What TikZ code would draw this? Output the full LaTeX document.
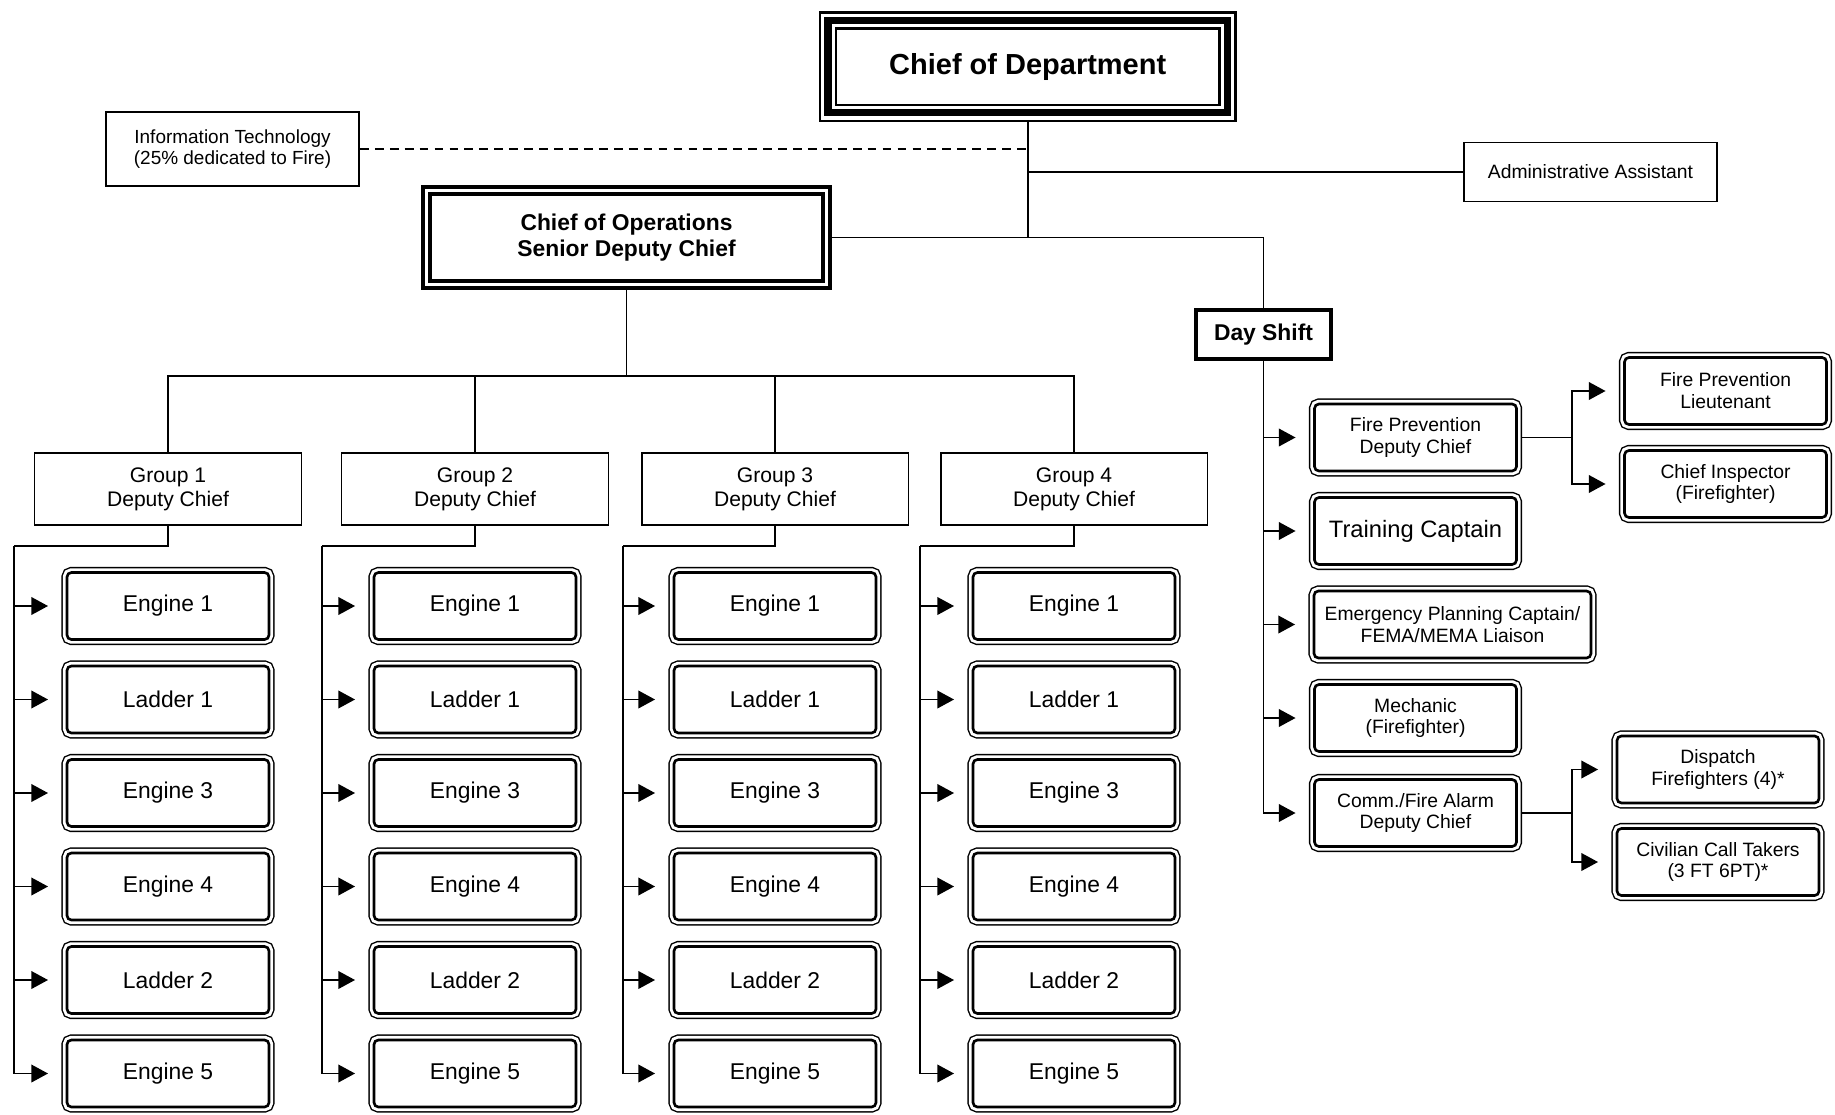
\documentclass[tikz,border=0pt]{standalone}
\usepackage{fontspec}
\setmainfont{Liberation Sans}
\usetikzlibrary{arrows.meta}

\begin{document}
\begin{tikzpicture}[
        x=0.02cm, y=-0.02cm,
        line width=1.1pt,
        font=\fontsize{11}{12.5}\selectfont,
        feed/.style={-{Triangle[length=9.5pt, width=10pt]}, shorten >=7.4pt},
        itlink/.style={dash pattern=on 5pt off 3.5pt},
        chief/.style={draw, align=center, inner sep=0pt, line width=4pt, minimum width=7.99cm, minimum height=1.85cm, outer sep=5.2pt,
          preaction={draw, line width=1.4pt, double, double distance=7.6pt},
          font=\fontsize{16.5}{19}\selectfont\bfseries},
        opschief/.style={draw, align=center, inner sep=0pt, line width=2.1pt, double, double distance=1.9pt, minimum width=8cm, minimum height=1.88cm, outer sep=3.1pt,
          font=\fontsize{13}{15}\selectfont\bfseries},
        dayshift/.style={draw, align=center, inner sep=0pt, line width=2.3pt, minimum width=2.7cm, minimum height=0.98cm, font=\fontsize{13}{15}\selectfont\bfseries},
        staff/.style={draw, align=center, inner sep=0pt, line width=1.1pt},
        grp/.style={staff, minimum width=5.34cm, minimum height=1.44cm, font=\fontsize{12}{13.5}\selectfont},
        unit/.style={draw, fill=white, align=center, inner sep=0pt, line width=1.5pt, rounded corners=2.5pt, minimum width=4.04cm, minimum height=1.34cm, outer sep=3.4pt,
          preaction={draw, line width=0.8pt, double, double distance=4.8pt},
          font=\fontsize{13}{15}\selectfont},
        smalltext/.style={font=\fontsize{11}{12.5}\selectfont}
      ]
      \useasboundingbox (0,0) rectangle (1835,1115);

      \node[chief] (dept) at (1027.7, 66.7) {Chief of Department};
      \node[opschief] (ops) at (626.5, 237.5) {Chief of Operations\\Senior Deputy Chief};
      \node[staff, minimum width=5.06cm, minimum height=1.48cm, font=\fontsize{10.8}{11.8}\selectfont] (it) at (232.5, 149) {Information Technology\\(25\% dedicated to Fire)};
      \node[staff, minimum width=5.06cm, minimum height=1.18cm] (admin) at (1590.5, 172) {Administrative Assistant};
      \node[dayshift] (day) at (1263.5, 334.5) {Day Shift};

      \draw[itlink] (it.east) -- (dept.south |- it.east);
      \draw (dept.south) -- (dept.south |- ops.east);
      \draw (dept.south |- admin.west) -- (admin.west);
      \draw (ops.east) -| (day.north);

      \foreach \g/\gx/\rx in {1/168/14, 2/475/322, 3/775/623, 4/1074/920} {
        \node[grp] (g\g) at (\gx, 489) {Group \g\\Deputy Chief};
        \coordinate (rail\g) at (\rx, 546);
        \draw (g\g.south) |- (rail\g);
        \foreach \lbl [count=\k] in {Engine 1, Ladder 1, Engine 3, Engine 4, Ladder 2, Engine 5} {
          \node[unit] (u\g\k) at (\gx, {606+(\k-1)*93.5}) {\lbl};
          \draw[feed] (rail\g) |- (u\g\k.west);
        }
      }

      \coordinate (bus) at (626.5, 376);
      \draw (ops.south) -- (bus);
      \draw (g1.north) |- (bus) -| (g4.north);
      \draw (g2.north) -- (g2.north |- bus);
      \draw (g3.north) -- (g3.north |- bus);

      \node[unit, smalltext] (fpdc) at (1415.5, 437.5) {Fire Prevention\\Deputy Chief};
      \node[unit, font=\fontsize{13.5}{15}\selectfont] (train) at (1415.5, 531) {Training Captain};
      \node[unit, smalltext, minimum width=5.54cm] (epc) at (1452.5, 624.5) {Emergency Planning Captain/\\FEMA/MEMA Liaison};
      \node[unit, smalltext] (mech) at (1415.5, 718) {Mechanic\\(Firefighter)};
      \node[unit, smalltext] (comm) at (1415.5, 813) {Comm./Fire Alarm\\Deputy Chief};
      \node[unit, smalltext] (fplt) at (1725.5, 391) {Fire Prevention\\Lieutenant};
      \node[unit, smalltext] (insp) at (1725.5, 484) {Chief Inspector\\(Firefighter)};
      \node[unit, smalltext] (disp) at (1718, 769.5) {Dispatch\\Firefighters (4)*};
      \node[unit, smalltext] (calls) at (1718, 862) {Civilian Call Takers\\(3 FT 6PT)*};

      \foreach \n in {fpdc, train, epc, mech, comm}
        \draw[feed] (day.south) |- (\n.west);

      \coordinate (fpfork) at (1572, 437.5);
      \draw (fpdc.east) -- (fpfork);
      \draw[feed] (fpfork) |- (fplt.west);
      \draw[feed] (fpfork) |- (insp.west);

      \coordinate (commfork) at (1572, 813);
      \draw (comm.east) -- (commfork);
      \draw[feed] (commfork) |- (disp.west);
      \draw[feed] (commfork) |- (calls.west);
    \end{tikzpicture}
\end{document}
